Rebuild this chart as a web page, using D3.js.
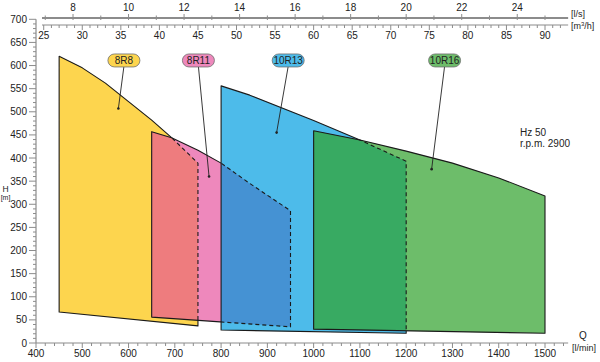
<!DOCTYPE html>
<html>
<head>
<meta charset="utf-8">
<script src="https://cdn.jsdelivr.net/npm/d3@7"></script>
<style>
  body { margin: 0; background: #fff; }
  text { font-family: "Liberation Sans", Arial, sans-serif; fill: #222; }
</style>
</head>
<body>
<div id="main"></div>
<script>
// pump ranges, Q in l/min, H in m
var names = ['8R8', '8R11', '10R13', '10R16']
var fills = ['#fdd54e', '#ee88bc', '#4dbbea', '#6dbd6a']
// colour where a range lies over the previous one
var overlapFills = [null, '#ee7c7e', '#4592d3', '#38aa62']

var top8R8 = [[450, 620], [500, 595], [550, 562], [600, 522], [650, 482], [693, 444], [750, 389]]
var bottom8R8 = [[450, 67], [750, 37]]
var top8R11 = [[650, 457], [693, 444], [750, 417], [800, 389], [862, 345], [950, 286]]
var bottom8R11 = [[650, 56], [950, 35]]
var top10R13 = [[800, 556], [862, 536], [1000, 481], [1100, 439], [1200, 393]]
var bottom10R13 = [[800, 28], [1200, 21]]
var top10R16 = [[1000, 459], [1100, 439], [1200, 415], [1300, 389], [1400, 357], [1500, 318]]
var bottom10R16 = [[1000, 30], [1500, 21]]

var tops = [top8R8, top8R11, top10R13, top10R16]
var bottoms = [bottom8R8, bottom8R11, bottom10R13, bottom10R16]

// label pills and where their leader lines point
var labelQ = [590, 751, 945, 1283]
var labelH = 611
var pointQ = [578, 774, 920, 1255]
var pointH = [507, 360, 455, 376]

var yTicks = d3.range(0, 701, 50)
var qTicks = d3.range(400, 1501, 100)
var lsTicks = d3.range(8, 25, 2)
var m3hTicks = d3.range(25, 91, 5)

var w = 600
var h = 362
var svg = d3.select('div#main').append('svg')
  .attr('width', w)
  .attr('height', h)

var x = d3.scaleLinear().domain([400, 1500]).range([36, 545])
var y = d3.scaleLinear().domain([0, 700]).range([343, 19.3])

var axisColor = '#8c8c8c'

function poly (i) {
  var pts = tops[i].concat(bottoms[i].slice().reverse())
  return 'M' + pts.map(function (p) { return x(p[0]) + ',' + y(p[1]) }).join('L') + 'Z'
}

var defs = svg.append('defs')
names.forEach(function (n, i) {
  defs.append('clipPath').attr('id', 'clip' + i)
    .append('path').attr('d', poly(i))
  // inside next range
  var mIn = defs.append('mask').attr('id', 'in' + i)
  mIn.append('rect').attr('width', w).attr('height', h).attr('fill', 'black')
  // outside next range
  var mOut = defs.append('mask').attr('id', 'out' + i)
  mOut.append('rect').attr('width', w).attr('height', h).attr('fill', 'white')
  if (i < names.length - 1) {
    mIn.append('path').attr('d', poly(i + 1)).attr('fill', 'white')
    mOut.append('path').attr('d', poly(i + 1)).attr('fill', 'black')
  }
})

// fills
names.forEach(function (n, i) {
  svg.append('path').attr('d', poly(i)).attr('fill', fills[i])
  if (i > 0) {
    svg.append('path').attr('d', poly(i))
      .attr('fill', overlapFills[i])
      .attr('clip-path', 'url(#clip' + (i - 1) + ')')
  }
})

// outlines: dashed where hidden under the next range
names.forEach(function (n, i) {
  svg.append('path').attr('d', poly(i))
    .attr('fill', 'none').attr('stroke', '#1a1a1a').attr('stroke-width', 1.1)
    .attr('stroke-linejoin', 'round')
    .attr('mask', 'url(#out' + i + ')')
  if (i < names.length - 1) {
    svg.append('path').attr('d', poly(i))
      .attr('fill', 'none').attr('stroke', '#1a1a1a').attr('stroke-width', 1.1)
      .attr('stroke-dasharray', '4,3')
      .attr('mask', 'url(#in' + i + ')')
  }
})

// left axis
svg.append('line').attr('x1', 36).attr('x2', 36).attr('y1', y(0)).attr('y2', y(700))
  .attr('stroke', axisColor).attr('stroke-width', 1.2)
d3.range(0, 701, 10).forEach(function (v) {
  var major = v % 50 === 0
  svg.append('line').attr('x1', major ? 29 : 33).attr('x2', 36)
    .attr('y1', y(v)).attr('y2', y(v)).attr('stroke', axisColor).attr('stroke-width', 1)
})
yTicks.forEach(function (v) {
  svg.append('text').text(v).attr('x', 27).attr('y', y(v) + 3.5)
    .attr('text-anchor', 'end').style('font-size', '10px')
})
svg.append('text').text('H').attr('x', 5.5).attr('y', 191.5)
  .attr('text-anchor', 'middle').style('font-size', '8.5px')
svg.append('text').text('[m]').attr('x', 5.5).attr('y', 200)
  .attr('text-anchor', 'middle').style('font-size', '7px')

// bottom axis
svg.append('line').attr('x1', 36).attr('x2', x(1550)).attr('y1', 343).attr('y2', 343)
  .attr('stroke', axisColor).attr('stroke-width', 1.2)
d3.range(400, 1541, 20).forEach(function (v) {
  svg.append('line').attr('x1', x(v)).attr('x2', x(v)).attr('y1', 343).attr('y2', v % 100 === 0 ? 348 : 346)
    .attr('stroke', axisColor).attr('stroke-width', 1)
})
qTicks.forEach(function (v) {
  svg.append('text').text(v).attr('x', x(v)).attr('y', 357)
    .attr('text-anchor', 'middle').style('font-size', '10px')
})
svg.append('text').text('Q').attr('x', 583).attr('y', 339)
  .attr('text-anchor', 'middle').style('font-size', '10px')
svg.append('text').text('[l/min]').attr('x', 584).attr('y', 351)
  .attr('text-anchor', 'middle').style('font-size', '9px')

// top axes: l/s and m3/h, same flow scale
var xls = function (v) { return x(v * 60) }
var xm3h = function (v) { return x(v * 1000 / 60) }
svg.append('line').attr('x1', 42).attr('x2', x(1550)).attr('y1', 18).attr('y2', 18)
  .attr('stroke', axisColor).attr('stroke-width', 1.8)
d3.range(7, 26).forEach(function (v) {
  var major = v % 2 === 0
  svg.append('line').attr('x1', xls(v)).attr('x2', xls(v)).attr('y1', major ? 14 : 15.5).attr('y2', 20)
    .attr('stroke', axisColor).attr('stroke-width', 1)
})
lsTicks.forEach(function (v) {
  svg.append('text').text(v).attr('x', xls(v)).attr('y', 11)
    .attr('text-anchor', 'middle').style('font-size', '10px')
})
svg.append('line').attr('x1', 42).attr('x2', x(1550)).attr('y1', 25).attr('y2', 25)
  .attr('stroke', axisColor).attr('stroke-width', 1.2)
d3.range(25, 93).forEach(function (v) {
  svg.append('line').attr('x1', xm3h(v)).attr('x2', xm3h(v)).attr('y1', 25).attr('y2', v % 5 === 0 ? 30 : 28)
    .attr('stroke', axisColor).attr('stroke-width', 1)
})
m3hTicks.forEach(function (v) {
  svg.append('text').text(v).attr('x', xm3h(v)).attr('y', 39)
    .attr('text-anchor', 'middle').style('font-size', '10px')
})
svg.append('text').text('[l/s]').attr('x', 571).attr('y', 17).style('font-size', '9px')
var m3 = svg.append('text').attr('x', 571).attr('y', 29).style('font-size', '9px')
m3.append('tspan').text('[m')
m3.append('tspan').text('3').attr('dy', -3).style('font-size', '6px')
m3.append('tspan').text('/h]').attr('dy', 3)

// labels with leader lines
names.forEach(function (n, i) {
  var cx = x(labelQ[i])
  var cy = y(labelH)
  svg.append('line').attr('x1', cx).attr('y1', cy + 6)
    .attr('x2', x(pointQ[i])).attr('y2', y(pointH[i]))
    .attr('stroke', '#222').attr('stroke-width', 0.9)
  svg.append('circle').attr('cx', x(pointQ[i])).attr('cy', y(pointH[i])).attr('r', 1.3).attr('fill', '#222')
  svg.append('rect').attr('x', cx - 16).attr('y', cy - 6.5).attr('width', 32).attr('height', 13)
    .attr('rx', 6.5).attr('fill', fills[i]).attr('stroke', '#6f6f6f').attr('stroke-width', 0.8)
  svg.append('text').text(n).attr('x', cx).attr('y', cy + 3.5)
    .attr('text-anchor', 'middle').style('font-size', '10px')
})

svg.append('text').text('Hz 50').attr('x', 520).attr('y', 136).style('font-size', '10px')
svg.append('text').text('r.p.m. 2900').attr('x', 520).attr('y', 147).style('font-size', '10px')
</script>
</body>
</html>
